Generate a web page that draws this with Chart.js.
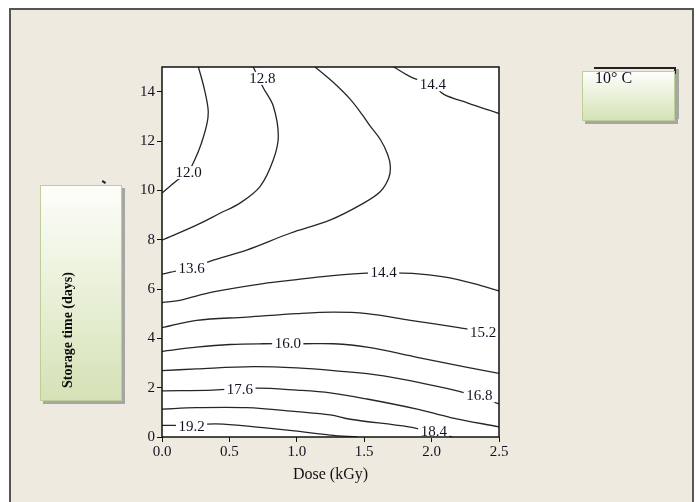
<!DOCTYPE html>
<html>
<head>
<meta charset="utf-8">
<script src="https://cdn.jsdelivr.net/npm/chart.js@4/dist/chart.umd.min.js"></script>
<style>
  html, body { margin: 0; padding: 0; background: #ffffff; }
  body { width: 700px; height: 502px; position: relative; overflow: hidden; font-family: "Liberation Serif", "Times New Roman", serif; }
  #frame { position: absolute; left: 9px; top: 8px; width: 681px; height: 540px; border: 2px solid #555555; background: #EEEADF; }
  #plot { position: absolute; left: 0; top: 0; z-index: 1; }
  .note { position: absolute; box-sizing: border-box; border: 1px solid #bdcf98; background: linear-gradient(#fdfefa, #d5e2b6); box-shadow: 3px 3px 0 #a6a6a2; z-index: 3; }
  #yTitleBox { left: 40px; top: 185px; width: 82px; height: 216px; }
  #yTitle { position: absolute; left: 68px; top: 330px; transform: translate(-50%, -50%) rotate(-90deg) scaleY(1.05); white-space: nowrap; font-weight: bold; font-size: 14px; color: #0d0d0d; z-index: 4; }
  #tempBack { position: absolute; left: 594px; top: 67px; width: 80px; height: 48px; border-top: 2px solid #222; border-right: 2px solid #222; box-shadow: 3px 2px 0 #a6a6a2; z-index: 2; }
  #tempBox { left: 582px; top: 71px; width: 93px; height: 50px; }
  #tempText { position: absolute; left: 595px; top: 69px; font-size: 16px; color: #101028; z-index: 4; }
  #stray { position: absolute; left: 102px; top: 181px; width: 4px; height: 1.6px; background: #222; transform: rotate(35deg); z-index: 2; }
</style>
</head>
<body>
<div id="frame"></div>
<canvas id="plot" width="700" height="502"></canvas>
<div id="stray"></div>
<div class="note" id="yTitleBox"></div>
<div id="yTitle">Storage time (days)</div>
<div id="tempBack"></div>
<div class="note" id="tempBox"></div>
<div id="tempText">10° C</div>
<script>
// Axis ticks
const doseTicks = [0, 0.5, 1.0, 1.5, 2.0, 2.5];
const dayTicks = [0, 2, 4, 6, 8, 10, 12, 14];

// Contour lines: [dose (kGy), storage time (days)]
const c12_0 = [[0.27, 15.0], [0.31, 14.2], [0.342, 13.28], [0.335, 12.74], [0.293, 11.92], [0.243, 11.24], [0.19, 10.71], [0.117, 10.43], [0, 9.89]];
const c12_8 = [[0.677, 15.0], [0.751, 14.16], [0.826, 13.41], [0.863, 12.19], [0.826, 11.24], [0.727, 10.15], [0.578, 9.48], [0.43, 9.07], [0.256, 8.59], [0, 7.98]];
const c13_6 = [[1.136, 15.0], [1.272, 14.37], [1.397, 13.69], [1.484, 13.08], [1.545, 12.6], [1.62, 12.06], [1.674, 11.45], [1.694, 10.97], [1.682, 10.5], [1.62, 9.95], [1.496, 9.48], [1.25, 8.8], [0.95, 8.26], [0.628, 7.58], [0.38, 7.17], [0.219, 6.86], [0.057, 6.67], [0, 6.6]];
const c14_4a = [[1.719, 15.0], [1.856, 14.57], [2.004, 14.3], [2.091, 13.89], [2.265, 13.55], [2.5, 13.12]];
const c14_4b = [[0, 5.45], [0.132, 5.54], [0.379, 5.88], [0.751, 6.22], [1.0, 6.38], [1.173, 6.49], [1.484, 6.63], [1.645, 6.65], [1.856, 6.63], [2.091, 6.49], [2.314, 6.22], [2.5, 5.92]];
const c15_2 = [[0, 4.43], [0.256, 4.73], [0.628, 4.86], [1.0, 5.0], [1.272, 5.06], [1.521, 5.0], [1.843, 4.73], [2.202, 4.43], [2.388, 4.25], [2.5, 4.03]];
const c16_0 = [[0, 3.47], [0.256, 3.64], [0.504, 3.75], [0.751, 3.78], [1.049, 3.78], [1.272, 3.78], [1.521, 3.64], [1.893, 3.23], [2.265, 2.82], [2.5, 2.58]];
const c16_8 = [[0, 2.69], [0.256, 2.76], [0.677, 2.85], [1.0, 2.8], [1.272, 2.69], [1.644, 2.48], [2.016, 2.08], [2.19, 1.87], [2.351, 1.64], [2.5, 1.34]];
const c17_6 = [[0, 1.87], [0.379, 1.9], [0.702, 1.98], [1.0, 1.9], [1.248, 1.79], [1.521, 1.54], [1.893, 1.13], [2.141, 0.79], [2.5, 0.41]];
const c18_4 = [[0, 1.13], [0.256, 1.19], [0.628, 1.19], [1.0, 1.03], [1.248, 0.9], [1.397, 0.72], [1.83, 0.41], [2.017, 0.18], [2.153, 0]];
const c19_2 = [[0, 0.47], [0.219, 0.47], [0.33, 0.52], [0.454, 0.52], [0.751, 0.38], [1.0, 0.24], [1.248, 0.08], [1.45, 0]];

// Level of each line and where its inline label sits
const contourLines = [c12_0, c12_8, c13_6, c14_4a, c14_4b, c15_2, c16_0, c16_8, c17_6, c18_4, c19_2];
const contourLevels = [12.0, 12.8, 13.6, 14.4, 14.4, 15.2, 16.0, 16.8, 17.6, 18.4, 19.2];
const labelDose = [0.197, 0.745, 0.219, 2.009, 1.644, 2.382, 0.933, 2.354, 0.578, 2.016, 0.219];
const labelDays = [10.72, 14.54, 6.84, 14.28, 6.65, 4.22, 3.80, 1.66, 1.94, 0.22, 0.43];

const serif = '"Liberation Serif", "Times New Roman", serif';
const inkColor = '#121222';

const datasets = contourLines.map((line, i) => ({
  label: contourLevels[i].toFixed(1),
  data: line.map(([x, y]) => ({ x, y })),
  showLine: true,
  borderColor: '#262626',
  borderWidth: 1.3,
  pointRadius: 0,
  tension: 0.35,
  fill: false
}));

const contourDecor = {
  id: 'contourDecor',
  beforeDraw(chart) {
    const { ctx, chartArea: a } = chart;
    ctx.save();
    ctx.fillStyle = '#ffffff';
    ctx.fillRect(a.left, a.top, a.right - a.left, a.bottom - a.top);
    ctx.restore();
  },
  afterDatasetsDraw(chart) {
    const { ctx, chartArea: a, scales } = chart;
    ctx.save();
    ctx.font = '15px ' + serif;
    ctx.textAlign = 'center';
    ctx.textBaseline = 'middle';
    contourLevels.forEach((lvl, i) => {
      const px = scales.x.getPixelForValue(labelDose[i]);
      const py = scales.y.getPixelForValue(labelDays[i]);
      const txt = lvl.toFixed(1);
      const w = ctx.measureText(txt).width + 5;
      ctx.fillStyle = '#ffffff';
      ctx.fillRect(px - w / 2, py - 6.5, w, 13);
      ctx.fillStyle = inkColor;
      ctx.fillText(txt, px, py + 0.5);
    });
    // plot box
    ctx.strokeStyle = '#111111';
    ctx.lineWidth = 1.5;
    ctx.strokeRect(a.left, a.top, a.right - a.left, a.bottom - a.top);
    ctx.restore();
  }
};

new Chart(document.getElementById('plot'), {
  type: 'scatter',
  data: { datasets },
  options: {
    responsive: false,
    animation: false,
    events: [],
    layout: { padding: { left: 0, top: 67, right: 201, bottom: 0 } },
    plugins: { legend: { display: false }, tooltip: { enabled: false } },
    scales: {
      x: {
        type: 'linear',
        min: 0,
        max: 2.5,
        afterBuildTicks: s => { s.ticks = doseTicks.map(v => ({ value: v })); },
        afterFit: s => { s.height = 65; },
        border: { display: false },
        grid: { drawOnChartArea: false, drawTicks: true, tickLength: 5, color: '#111', tickWidth: 1 },
        ticks: { padding: 1, color: inkColor, font: { family: serif, size: 15 }, callback: v => Number(v).toFixed(1), maxRotation: 0, autoSkip: false },
        title: { display: true, text: 'Dose (kGy)', color: '#111111', font: { family: serif, size: 16 }, padding: { top: 0, bottom: 18 } }
      },
      y: {
        type: 'linear',
        min: 0,
        max: 15,
        afterBuildTicks: s => { s.ticks = dayTicks.map(v => ({ value: v })); },
        afterFit: s => { s.width = 162; },
        border: { display: false },
        grid: { drawOnChartArea: false, drawTicks: true, tickLength: 5, color: '#111', tickWidth: 1 },
        ticks: { padding: 2, color: inkColor, font: { family: serif, size: 15 }, autoSkip: false }
      }
    }
  },
  plugins: [contourDecor]
});
</script>
</body>
</html>
